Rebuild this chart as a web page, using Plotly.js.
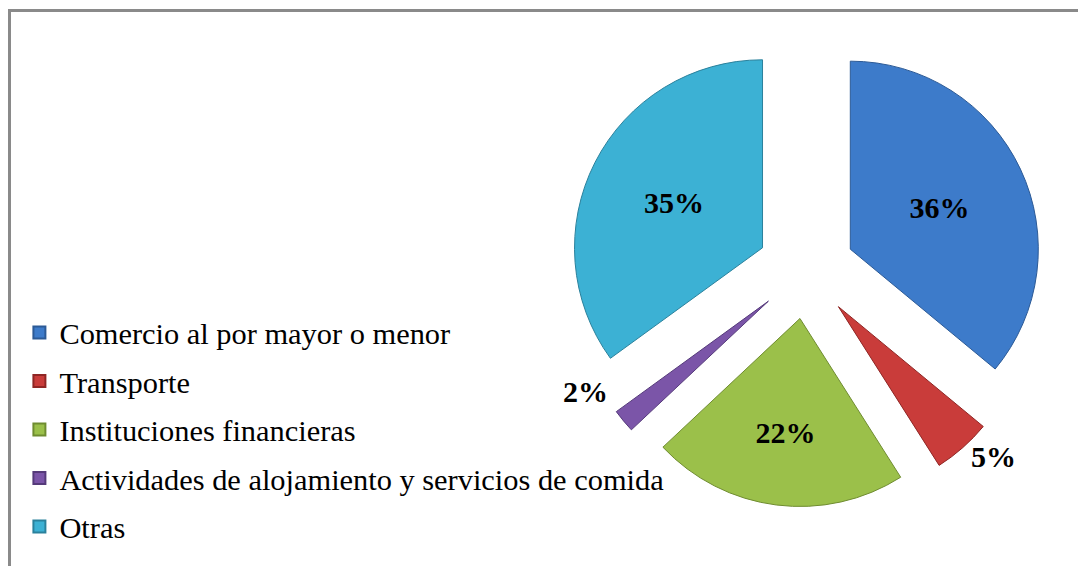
<!DOCTYPE html>
<html>
<head>
<meta charset="utf-8">
<script src="https://cdn.plot.ly/plotly-3.0.1.min.js"></script>
<style>
  html, body { margin: 0; padding: 0; background: #fff; }
  #wrap { position: relative; width: 1078px; height: 566px; overflow: hidden; }
  #chart { position: absolute; left: 0; top: 0; width: 1078px; height: 566px; }
  #frame { position: absolute; left: 8px; top: 9px; width: 1100px; height: 600px;
           border-left: 3px solid #8a8a8a; border-top: 3px solid #8a8a8a; pointer-events: none; }
</style>
</head>
<body>
<div id="wrap">
  <div id="chart"></div>
  <div id="frame"></div>
</div>
<script>
const categories = [
  "Comercio al por mayor o menor",
  "Transporte",
  "Instituciones financieras",
  "Actividades de alojamiento y servicios de comida",
  "Otras"
];
const shares = [36, 5, 22, 2, 35];
const sliceColors = ["#3d7bca", "#c93c3a", "#9bc04a", "#7b55a8", "#3cb1d4"];
const edgeColors = ["#2c5a96", "#8f2624", "#6f8c30", "#553a7a", "#2a819c"];
const labelPositions = ["inside", "outside", "inside", "outside", "inside"];

const serif = "Liberation Serif, Times New Roman, serif";
const total = shares.reduce((a, b) => a + b, 0);
const pctText = v => Math.round(v / total * 100) + "%";

// purple slice label is placed like the original (above-left of the slice)
const templates = shares.map((v, i) => i === 3 ? "" : "%{percent:.0%}");

const pie = {
  type: "pie",
  labels: categories,
  values: shares,
  sort: false,
  direction: "clockwise",
  rotation: 0,
  pull: [0.26, 0.26, 0.26, 0.26, 0.26],
  marker: { colors: sliceColors, line: { color: edgeColors, width: 1 } },
  textinfo: "percent",
  texttemplate: templates,
  textposition: labelPositions,
  insidetextorientation: "horizontal",
  textfont: { family: serif, size: 30, color: "#000", weight: "bold" },
  domain: { x: [0.528, 0.9675], y: [0.104, 0.942] },
  showlegend: false,
  hoverinfo: "label+percent"
};

// legend entries (one per category, so the spacing between entries can be set)
const legendEntries = categories.map((c, i) => ({
  type: "scatter",
  mode: "markers",
  x: [null], y: [null],
  name: c,
  legendgroup: "g" + i,
  marker: { symbol: "square", size: 12, color: sliceColors[i], line: { color: edgeColors[i], width: 1 } },
  showlegend: true,
  hoverinfo: "skip"
}));

const layout = {
  width: 1078,
  height: 566,
  margin: { l: 0, r: 0, t: 0, b: 0 },
  paper_bgcolor: "#ffffff",
  plot_bgcolor: "rgba(0,0,0,0)",
  xaxis: { visible: false },
  yaxis: { visible: false },
  showlegend: true,
  legend: {
    x: 0.018, y: 0.459, xanchor: "left", yanchor: "top",
    font: { family: serif, size: 30.4, color: "#000" },
    bgcolor: "rgba(0,0,0,0)",
    traceorder: "grouped",
    tracegroupgap: 6,
    itemsizing: "constant"
  },
  annotations: [{
    text: pctText(shares[3]),
    xref: "paper", yref: "paper",
    x: 585 / 1078, y: 1 - 391 / 566,
    xanchor: "center", yanchor: "middle",
    showarrow: false,
    font: { family: serif, size: 30, color: "#000", weight: "bold" }
  }]
};

Plotly.newPlot("chart", [pie].concat(legendEntries), layout, { displayModeBar: false, staticPlot: true });
</script>
</body>
</html>
